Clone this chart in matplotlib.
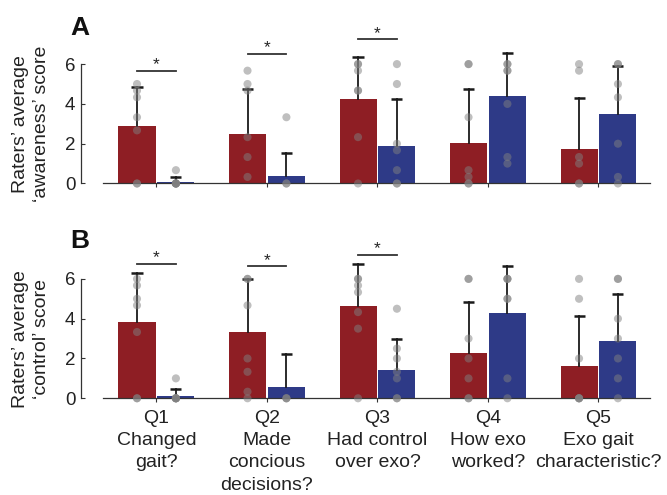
import numpy as np
import matplotlib
matplotlib.use('Agg')
import matplotlib.pyplot as plt

plt.rcParams['font.family'] = ['Liberation Sans', 'DejaVu Sans']

# Questions shown on the x axis
tick_labels = ['Q1\nChanged\ngait?', 'Q2\nMade\nconcious\ndecisions?', 'Q3\nHad control\nover exo?',
               'Q4\nHow exo\nworked?', 'Q5\nExo gait\ncharacteristic?']

# Panel A - 'awareness' score (mean, sd, and the individual participant averages)
aware_red_mean = [2.89, 2.49, 4.25, 2.04, 1.73]
aware_red_sd = [1.97, 2.26, 2.12, 2.69, 2.58]
aware_blue_mean = [0.10, 0.38, 1.88, 4.40, 3.49]
aware_blue_sd = [0.24, 1.17, 2.38, 2.14, 2.43]
aware_red_pts = [[5, 4.67, 4.33, 3.33, 2.67, 0, 0],
                 [5.67, 5, 4.67, 2.33, 1.33, 0.33],
                 [6, 6, 5.67, 4.67, 4.67, 2.33, 0],
                 [6, 6, 3.33, 0.67, 0.33, 0, 0],
                 [6, 5.67, 1.33, 1, 0, 0]]
aware_blue_pts = [[0.67, 0, 0, 0, 0, 0, 0],
                  [3.33, 0, 0],
                  [6, 5, 2, 1.67, 0.67, 0, 0],
                  [6, 6, 5.67, 5.67, 4, 1.33, 1],
                  [6, 6, 5, 4.33, 2, 0.33, 0]]
aware_sig = [5.65, 6.5, 7.25]  # significance bars for Q1-Q3

# Panel B - 'control' score
ctrl_red_mean = [3.85, 3.33, 4.64, 2.26, 1.62]
ctrl_red_sd = [2.46, 2.65, 2.11, 2.58, 2.53]
ctrl_blue_mean = [0.12, 0.57, 1.42, 4.29, 2.88]
ctrl_blue_sd = [0.36, 1.67, 1.58, 2.37, 2.35]
ctrl_red_pts = [[6, 5.67, 5, 4.67, 3.33, 0, 0],
                [6, 6, 4.67, 2, 1.33, 0.33, 0],
                [6, 6, 5.67, 5.33, 4.33, 3.5, 0],
                [6, 6, 3, 2, 1, 0, 0],
                [6, 5, 2, 0, 0, 0, 0]]
ctrl_blue_pts = [[1, 0, 0, 0, 0, 0, 0],
                 [0, 0, 0],
                 [4.5, 2.5, 2, 1.33, 1, 0, 0],
                 [6, 6, 6, 5, 5, 1, 0],
                 [6, 6, 4, 3, 2, 1, 0]]
ctrl_sig = [6.75, 6.63, 7.2]

red = '#8E1E24'
blue = '#2E3A87'
off = 0.176  # half distance between the paired bars
width = 0.335
cap = 0.05  # half width of the error bar cap
x = np.arange(len(tick_labels))


def draw_panel(ax, rm, rs, bm, bs, rp, bp, sig, show_labels):
    ax.bar(x - off, rm, width, color=red, zorder=2)
    ax.bar(x + off, bm, width, color=blue, zorder=2)
    for pos, means, sds, pts in [(x - off, rm, rs, rp), (x + off, bm, bs, bp)]:
        for i in range(len(x)):
            # only the upper half of the error bar, no cap at the bar top
            top = means[i] + sds[i]
            ax.plot([pos[i], pos[i]], [means[i], top], color='#1a1a1a', lw=1.3, zorder=3)
            ax.plot([pos[i] - cap, pos[i] + cap], [top, top], color='#1a1a1a', lw=1.8,
                    zorder=3, solid_capstyle='butt')
            ax.scatter(np.full(len(pts[i]), pos[i]), pts[i], s=34, color='#808080', alpha=0.5,
                       edgecolors='none', zorder=4, clip_on=False)
    for i, y in enumerate(sig):
        ax.plot([x[i] - off, x[i] + off], [y, y], color='#333333', lw=1.3, clip_on=False)
        ax.text(x[i], y + 0.08, '*', ha='center', va='baseline', fontsize=12.5, color='#222222')

    ax.set_xlim(-0.683, 4.466)
    ax.set_ylim(0, 8)
    ax.set_yticks([0, 2, 4, 6])
    ax.set_xticks(x)
    if show_labels:
        ax.set_xticklabels(tick_labels, linespacing=1.4)
    else:
        ax.set_xticklabels([])
    ax.spines['top'].set_visible(False)
    ax.spines['right'].set_visible(False)
    ax.spines['left'].set_bounds(0, 6)
    ax.spines['bottom'].set_bounds(-0.484, 4.466)
    for s in ['left', 'bottom']:
        ax.spines[s].set_linewidth(0.9)
        ax.spines[s].set_color('#333333')
    ax.tick_params(axis='y', direction='in', length=3, width=0.8, pad=4, labelsize=13.5,
                   colors='#333333', labelcolor='#222222')
    ax.tick_params(axis='x', direction='out', length=3, width=0.8, pad=5.5, labelsize=14,
                   colors='#333333', labelcolor='#222222')


fig = plt.figure(figsize=(6.67, 4.95), dpi=100)
ax_a = fig.add_axes([0.1214, 0.6293, 0.8531, 0.3216])
ax_b = fig.add_axes([0.1214, 0.1954, 0.8531, 0.3216])

draw_panel(ax_a, aware_red_mean, aware_red_sd, aware_blue_mean, aware_blue_sd,
           aware_red_pts, aware_blue_pts, aware_sig, False)
draw_panel(ax_b, ctrl_red_mean, ctrl_red_sd, ctrl_blue_mean, ctrl_blue_sd,
           ctrl_red_pts, ctrl_blue_pts, ctrl_sig, True)

# y labels and panel letters
fig.text(31 / 667, 0.75, 'Raters’ average\n‘awareness’ score', rotation=90, ha='center',
         va='center', multialignment='center', fontsize=14, linespacing=1.25, color='#222222')
fig.text(31 / 667, 0.316, 'Raters’ average\n‘control’ score', rotation=90, ha='center',
         va='center', multialignment='center', fontsize=14, linespacing=1.25, color='#222222')
fig.text(70 / 667, 0.968, 'A', fontsize=19, fontweight='bold', va='top', color='#111111')
fig.text(70 / 667, 0.537, 'B', fontsize=19, fontweight='bold', va='top', color='#111111')

fig.savefig('out.png', dpi=100)
